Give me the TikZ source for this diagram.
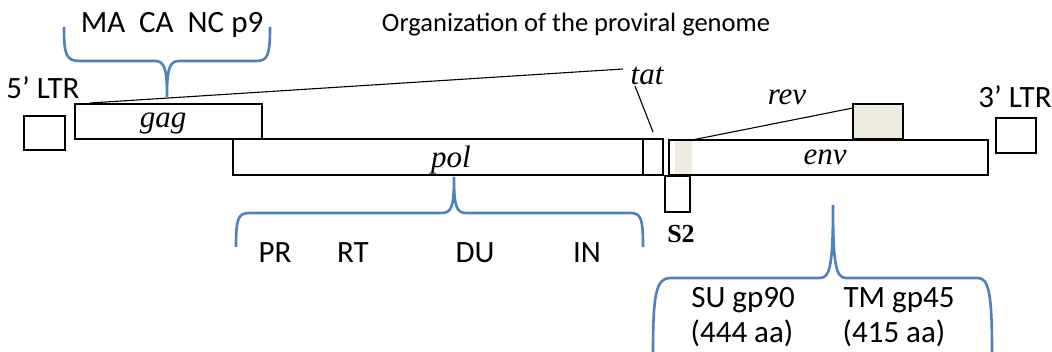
\documentclass[tikz,border=0pt]{standalone}
\usepackage{fontspec}
\setmainfont{Liberation Serif}
\newfontfamily\calib{Carlito}
\definecolor{braceblue}{HTML}{4F81BD}
\definecolor{beige}{HTML}{EEECE1}
\begin{document}
\begin{tikzpicture}[x=1pt,y=-1pt,
  box/.style={draw=black, line width=1.2pt, inner sep=0pt, outer sep=0pt, anchor=north west},
  brace/.style={draw=braceblue, line width=2.6pt},
  lab/.style={font=\calib\fontsize{31}{33}\selectfont, inner sep=0pt, anchor=base},
  ttl/.style={font=\calib\fontsize{26.5}{28}\selectfont, inner sep=0pt, anchor=base},
  gene/.style={font=\itshape\fontsize{31}{33}\selectfont, inner sep=0pt, anchor=base},
  link/.style={draw=black, line width=1.1pt}]
\useasboundingbox (0,0) rectangle (1052,352);

% boxes
\node[box, minimum width=41pt, minimum height=34pt] (ltr5) at (24,116) {};
\node[box, minimum width=187pt, minimum height=35pt] (gag) at (75,104) {};
\node[box, minimum width=410pt, minimum height=36pt] (pol) at (233,139) {};
\node[box, minimum width=20pt, minimum height=36pt] (tatbox) at (643,139) {};
\fill[beige] (675,140) rectangle (692,175);
\node[box, minimum width=319pt, minimum height=35pt] (env) at (669,140) {};
\node[box, minimum width=25pt, minimum height=36pt] (s2box) at (665,176) {};
\node[box, minimum width=50pt, minimum height=35pt, fill=beige] (rev) at (853,104) {};
\node[box, minimum width=40pt, minimum height=35pt] (ltr3) at (996,118) {};
\draw[line width=2.2pt] (643,139) -- (643,175);

% labels
\node[ttl] (title) at (576,32) {Organization of the proviral genome};
\node[lab] (gaglist) at (172,33) {MA\ \ CA\ \ NC p9};
\node[lab] (l5) at (43,99) {5’ LTR};
\node[lab] (l3) at (1015,108) {3’ LTR};
\node[gene] (gagt) at (163,128) {gag};
\node[gene] (polt) at (451,168) {pol};
\node[gene] (tatt) at (647,85) {tat};
\node[gene] (revt) at (787,105) {rev};
\node[gene] (envt) at (825,165) {env};
\node[font=\bfseries\fontsize{26}{28}\selectfont, inner sep=0pt, anchor=base] (s2t) at (681,243) {S2};
\node[lab] (pr) at (275,263) {PR};
\node[lab] (rt) at (353,263) {RT};
\node[lab] (du) at (475,263) {DU};
\node[lab] (in) at (587,263) {IN};
\node[lab] (su) at (743,308) {SU gp90};
\node[lab] (su2) at (742,343) {(444 aa)};
\node[lab] (tm) at (899,308) {TM gp45};
\node[lab] (tm2) at (894,343) {(415 aa)};

% connectors
\coordinate (gagstart) at (90,103);
\coordinate (tatend) at (623,69);
\coordinate (tattop) at (635,86);
\coordinate (tatbot) at (653,132);
\coordinate (envsh) at (692,140);
\coordinate (revcorner) at (853,108);
\draw[link] (gagstart) -- (tatend);
\draw[link] (tattop) -- (tatbot);
\draw[link] (envsh) -- (revcorner);

% braces
\draw[brace] (64,27) .. controls (64,55) and (66,61) .. (80,61) -- (155,61)
  .. controls (165,61) and (167,70) .. (167,97)
  .. controls (167,70) and (169,61) .. (179,61) -- (256,61)
  .. controls (268,61) and (270,55) .. (270,27);
\draw[brace] (236,247) .. controls (236,218) and (238,213) .. (250,213) -- (442,213)
  .. controls (452,213) and (454,205) .. (454,177)
  .. controls (454,205) and (456,213) .. (466,213) -- (630,213)
  .. controls (641,213) and (643,218) .. (643,247);
\draw[brace] (653,352) .. controls (653,295) and (656,278) .. (670,278) -- (820,278)
  .. controls (830,278) and (833,265) .. (833,205)
  .. controls (833,265) and (836,278) .. (846,278) -- (978,278)
  .. controls (989,278) and (992,295) .. (992,352);
\end{tikzpicture}
\end{document}
